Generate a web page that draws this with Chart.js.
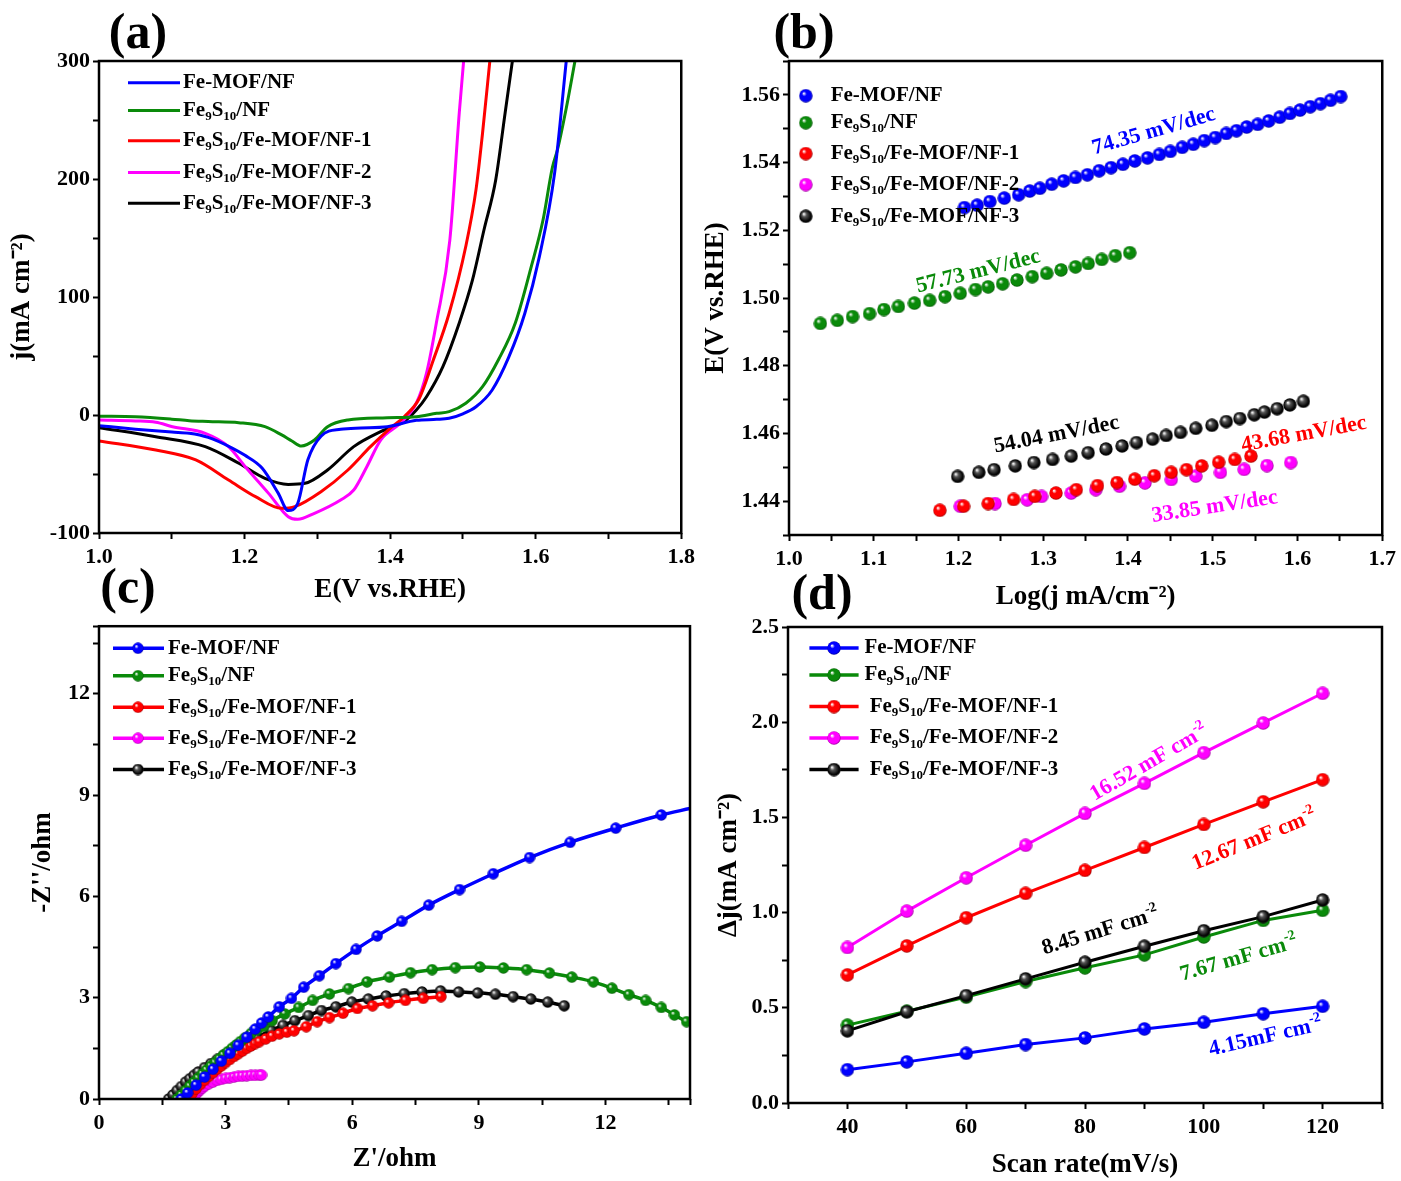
<!DOCTYPE html>
<html>
<head>
<meta charset="utf-8">
<script src="https://cdn.jsdelivr.net/npm/chart.js@4.4.1/dist/chart.umd.min.js"></script>
<style>
  html, body { margin: 0; padding: 0; background: #fff; }
  body { width: 1401px; height: 1181px; position: relative; overflow: hidden; }
  canvas { position: absolute; }
  .tag { position: absolute; font: bold 50px "Liberation Serif", "Times New Roman", serif; line-height: 1; color: #000; transform: translate(-50%, -50%); }
</style>
</head>
<body>
<canvas id="lsvChart" width="700" height="615" style="left:0;top:0"></canvas>
<canvas id="tafelChart" width="701" height="615" style="left:700px;top:0"></canvas>
<canvas id="eisChart" width="700" height="571" style="left:0;top:610px"></canvas>
<canvas id="cdlChart" width="701" height="571" style="left:700px;top:610px"></canvas>
<div class="tag" style="left:138px;top:31px">(a)</div>
<div class="tag" style="left:804px;top:31px">(b)</div>
<div class="tag" style="left:128px;top:586px">(c)</div>
<div class="tag" style="left:822px;top:592px">(d)</div>
<script>
// sample names (markup: _{..} subscript, ^{..} superscript)
const seriesNames = ['Fe-MOF/NF', 'Fe_{9}S_{10}/NF', 'Fe_{9}S_{10}/Fe-MOF/NF-1', 'Fe_{9}S_{10}/Fe-MOF/NF-2', 'Fe_{9}S_{10}/Fe-MOF/NF-3'];
const seriesColors = ['#0000ff', '#0a8a0a', '#ff0000', '#ff00ff', '#000000'];

// (a) LSV curves: potential (V vs RHE) and current density (mA cm-2)
const lsvMofE = [1.00, 1.05, 1.10, 1.124, 1.15, 1.183, 1.20, 1.224, 1.246, 1.26, 1.273, 1.287, 1.305, 1.332, 1.36, 1.396, 1.436, 1.464, 1.481, 1.50, 1.518, 1.54, 1.563, 1.585, 1.605, 1.626, 1.642];
const lsvMofJ = [-9, -12, -14.5, -15.5, -19, -28, -34, -45, -66, -81, -75, -38, -18, -12, -11, -10, -4.5, -3.7, -2.8, 1, 7, 21, 49, 86, 134, 205, 300];
const lsvFesE = [1.00, 1.05, 1.10, 1.124, 1.15, 1.192, 1.228, 1.251, 1.265, 1.278, 1.296, 1.314, 1.342, 1.396, 1.436, 1.464, 1.481, 1.504, 1.527, 1.549, 1.572, 1.594, 1.61, 1.623, 1.63, 1.642, 1.654];
const lsvFesJ = [-1, -1.5, -3.5, -4.8, -5.5, -6.5, -9.9, -16.9, -22, -26.3, -21.2, -9.9, -4.2, -2.3, -1.4, 1.4, 2.8, 10, 24, 47, 78, 126, 165, 210, 225, 260, 300];
const lsvNf1E = [1.00, 1.078, 1.133, 1.178, 1.215, 1.251, 1.269, 1.305, 1.342, 1.373, 1.40, 1.42, 1.44, 1.459, 1.481, 1.504, 1.518, 1.527, 1.537];
const lsvNf1J = [-22, -29.7, -38.1, -55.1, -69.2, -79.1, -77.7, -65, -46.6, -26.8, -11.3, -1, 14, 46, 86, 143, 191, 239, 300];
const lsvNf2E = [1.00, 1.05, 1.078, 1.101, 1.146, 1.178, 1.201, 1.233, 1.26, 1.273, 1.296, 1.332, 1.35, 1.368, 1.387, 1.414, 1.436, 1.45, 1.4635, 1.482, 1.495, 1.501];
const lsvNf2J = [-4.2, -5, -6.2, -9.9, -15.5, -26.8, -43.8, -66.4, -86.2, -88.4, -83.3, -72, -63.6, -43.8, -21.2, -7, 10, 35.5, 78, 148, 256, 300];
const lsvNf3E = [1.00, 1.078, 1.146, 1.192, 1.228, 1.26, 1.283, 1.314, 1.35, 1.387, 1.419, 1.436, 1.45, 1.4725, 1.495, 1.513, 1.529, 1.545, 1.558, 1.568];
const lsvNf3J = [-10.7, -18.4, -26.8, -40.9, -53.7, -58.8, -57.9, -46.6, -26.8, -14.1, -5.6, 4.2, 15.5, 41, 78, 114, 157, 199, 256, 300];

// (b) Tafel plots: log(j) and E
const tafelMofLog = [1.207, 1.222, 1.237, 1.254, 1.271, 1.284, 1.296, 1.310, 1.324, 1.338, 1.352, 1.366, 1.380, 1.394, 1.408, 1.423, 1.437, 1.450, 1.464, 1.477, 1.490, 1.503, 1.516, 1.528, 1.540, 1.553, 1.566, 1.579, 1.591, 1.603, 1.615, 1.627, 1.639, 1.651];
const tafelMofE = [1.5267, 1.5274, 1.5285, 1.5295, 1.5305, 1.5316, 1.5324, 1.5336, 1.5346, 1.5356, 1.5364, 1.5376, 1.5385, 1.5395, 1.5405, 1.5414, 1.5424, 1.5433, 1.5445, 1.5454, 1.5465, 1.5474, 1.5486, 1.5494, 1.5505, 1.5513, 1.5523, 1.5534, 1.5545, 1.5555, 1.5565, 1.5574, 1.5584, 1.5595];
const tafelFesLog = [1.037, 1.057, 1.075, 1.095, 1.112, 1.129, 1.148, 1.166, 1.184, 1.202, 1.220, 1.235, 1.252, 1.269, 1.287, 1.304, 1.321, 1.338, 1.353, 1.369, 1.385, 1.402];
const tafelFesE = [1.4925, 1.4934, 1.4945, 1.4954, 1.4966, 1.4975, 1.4985, 1.4993, 1.5004, 1.5014, 1.5025, 1.5033, 1.5042, 1.5053, 1.5063, 1.5073, 1.5083, 1.5092, 1.5102, 1.5114, 1.5125, 1.5134];
const tafelNf1Log = [1.178, 1.206, 1.235, 1.265, 1.290, 1.315, 1.339, 1.364, 1.387, 1.408, 1.431, 1.451, 1.469, 1.487, 1.507, 1.526, 1.545];
const tafelNf1E = [1.4373, 1.4385, 1.4393, 1.4405, 1.4414, 1.4424, 1.4434, 1.4446, 1.4455, 1.4465, 1.4475, 1.4485, 1.4493, 1.4504, 1.4515, 1.4523, 1.4533];
const tafelNf2Log = [1.202, 1.243, 1.281, 1.298, 1.333, 1.362, 1.390, 1.420, 1.451, 1.480, 1.509, 1.537, 1.564, 1.592];
const tafelNf2E = [1.4385, 1.4393, 1.4404, 1.4414, 1.4424, 1.4434, 1.4444, 1.4454, 1.4464, 1.4474, 1.4485, 1.4494, 1.4505, 1.4514];
const tafelNf3Log = [1.199, 1.224, 1.242, 1.267, 1.289, 1.311, 1.333, 1.353, 1.374, 1.393, 1.410, 1.429, 1.445, 1.462, 1.480, 1.499, 1.516, 1.532, 1.549, 1.561, 1.576, 1.591, 1.607];
const tafelNf3E = [1.4473, 1.4485, 1.4493, 1.4504, 1.4514, 1.4523, 1.4533, 1.4543, 1.4554, 1.4563, 1.4573, 1.4583, 1.4594, 1.4603, 1.4615, 1.4624, 1.4635, 1.4644, 1.4655, 1.4663, 1.4673, 1.4684, 1.4695];
const tafelSlopes = ['74.35 mV/dec', '57.73 mV/dec', '43.68 mV/dec', '33.85 mV/dec', '54.04 mV/dec'];

// (c) Nyquist plots: Z' and -Z'' (ohm)
const eisMofRe = [1.95, 2.1, 2.3, 2.5, 2.7, 2.9, 3.1, 3.3, 3.5, 3.7, 3.85, 4.01, 4.27, 4.56, 4.85, 5.22, 5.61, 6.09, 6.59, 7.17, 7.81, 8.54, 9.34, 10.2, 11.16, 12.24, 13.32, 14.0];
const eisMofIm = [0, 0.18, 0.41, 0.65, 0.88, 1.12, 1.35, 1.59, 1.83, 2.07, 2.25, 2.43, 2.73, 2.98, 3.31, 3.65, 4.01, 4.43, 4.83, 5.26, 5.74, 6.2, 6.67, 7.15, 7.6, 8.02, 8.41, 8.6];
const eisFesRe = [1.85, 1.95, 2.05, 2.15, 2.25, 2.35, 2.45, 2.55, 2.65, 2.75, 2.85, 2.95, 3.05, 3.15, 3.25, 3.35, 3.45, 3.6, 3.75, 3.9, 4.1, 4.4, 4.73, 5.06, 5.46, 5.91, 6.35, 6.88, 7.38, 7.89, 8.44, 9.02, 9.58, 10.13, 10.67, 11.2, 11.71, 12.15, 12.55, 12.95, 13.32, 13.63, 13.92];
const eisFesIm = [0, 0.12, 0.25, 0.38, 0.5, 0.62, 0.74, 0.86, 0.97, 1.08, 1.19, 1.3, 1.4, 1.5, 1.6, 1.7, 1.8, 1.94, 2.05, 2.15, 2.32, 2.52, 2.71, 2.92, 3.11, 3.27, 3.47, 3.61, 3.74, 3.83, 3.89, 3.91, 3.88, 3.83, 3.73, 3.61, 3.47, 3.28, 3.09, 2.92, 2.71, 2.49, 2.29];
const eisNf1Re = [2.1, 2.2, 2.3, 2.4, 2.5, 2.6, 2.7, 2.8, 2.9, 3.0, 3.1, 3.2, 3.3, 3.4, 3.5, 3.6, 3.7, 3.8, 3.95, 4.1, 4.27, 4.45, 4.62, 4.91, 5.17, 5.46, 5.78, 6.12, 6.48, 6.86, 7.26, 7.68, 8.1];
const eisNf1Im = [0, 0.15, 0.3, 0.43, 0.55, 0.67, 0.78, 0.88, 0.98, 1.08, 1.17, 1.26, 1.34, 1.42, 1.5, 1.57, 1.64, 1.7, 1.78, 1.86, 1.93, 1.98, 2.02, 2.14, 2.29, 2.41, 2.54, 2.68, 2.76, 2.85, 2.92, 2.98, 3.03];
const eisNf2Re = [2.2, 2.25, 2.3, 2.35, 2.4, 2.45, 2.5, 2.6, 2.7, 2.8, 2.9, 3.0, 3.1, 3.2, 3.3, 3.4, 3.5, 3.6, 3.7, 3.8, 3.85];
const eisNf2Im = [0, 0.08, 0.15, 0.22, 0.28, 0.33, 0.38, 0.45, 0.5, 0.55, 0.58, 0.61, 0.63, 0.65, 0.67, 0.68, 0.69, 0.7, 0.7, 0.71, 0.71];
const eisNf3Re = [1.65, 1.75, 1.85, 1.95, 2.05, 2.15, 2.25, 2.35, 2.5, 2.65, 2.8, 2.95, 3.1, 3.25, 3.43, 3.74, 4.08, 4.36, 4.64, 4.96, 5.27, 5.61, 5.99, 6.38, 6.8, 7.23, 7.65, 8.09, 8.52, 8.97, 9.39, 9.81, 10.23, 10.63, 11.02];
const eisNf3Im = [0, 0.12, 0.25, 0.37, 0.5, 0.6, 0.7, 0.8, 0.93, 1.05, 1.17, 1.29, 1.4, 1.52, 1.65, 1.83, 2.03, 2.18, 2.32, 2.47, 2.62, 2.73, 2.87, 2.96, 3.05, 3.12, 3.17, 3.2, 3.17, 3.14, 3.1, 3.03, 2.96, 2.87, 2.76];

// (d) double-layer capacitance: scan rate vs delta j
const scanRates = [40, 50, 60, 70, 80, 90, 100, 110, 120];
const cdlMof = [0.175, 0.216, 0.261, 0.307, 0.342, 0.389, 0.424, 0.469, 0.508];
const cdlFes = [0.409, 0.482, 0.556, 0.638, 0.710, 0.778, 0.872, 0.959, 1.012];
const cdlNf1 = [0.673, 0.825, 0.973, 1.101, 1.222, 1.342, 1.463, 1.582, 1.698];
const cdlNf2 = [0.817, 1.008, 1.183, 1.354, 1.521, 1.679, 1.840, 1.996, 2.152];
const cdlNf3 = [0.379, 0.479, 0.564, 0.652, 0.739, 0.823, 0.905, 0.979, 1.066];
const cdlValues = ['4.15mF cm^{-2}', '7.67 mF cm^{-2}', '12.67 mF cm^{-2}', '16.52 mF cm^{-2}', '8.45 mF cm^{-2}'];

const FAMILY = '"Liberation Serif", "Times New Roman", serif';
Chart.defaults.font.family = FAMILY;
Chart.defaults.color = '#000';

function pairs(xs, ys) {
    return xs.map((x, i) => ({ x: x, y: ys[i] }));
}

function range(min, max, step) {
    const out = [];
    for (let i = 0; min + i * step <= max + 1e-9; i++) out.push(+(min + i * step).toFixed(6));
    return out;
}

function darken(hex, f) {
    const n = parseInt(hex.slice(1), 16);
    const r = Math.round(((n >> 16) & 255) * f), g = Math.round(((n >> 8) & 255) * f), b = Math.round((n & 255) * f);
    return 'rgb(' + r + ',' + g + ',' + b + ')';
}

// shaded ball used as marker
function makeBall(color, d) {
    const c = document.createElement('canvas');
    c.width = d; c.height = d;
    const g = c.getContext('2d');
    const r = d / 2;
    const grad = g.createRadialGradient(r * 0.7, r * 0.65, r * 0.05, r, r, r);
    grad.addColorStop(0, '#ffffff');
    grad.addColorStop(0.3, color === '#000000' ? '#555555' : color);
    grad.addColorStop(0.8, color);
    grad.addColorStop(1, darken(color === '#000000' ? '#333333' : color, 0.55));
    g.fillStyle = grad;
    g.beginPath();
    g.arc(r, r, r - 0.3, 0, Math.PI * 2);
    g.fill();
    return c;
}

function drawRich(ctx, text, x, y, size, color, align, angle) {
    const parts = [];
    const re = /([_^])\{([^}]*)\}|([^_^]+)/g;
    let m;
    while ((m = re.exec(text))) {
        if (m[3]) parts.push({ t: m[3], k: 0 });
        else parts.push({ t: m[2], k: m[1] === '_' ? 1 : -1 });
    }
    const fontFor = k => 'bold ' + (k ? Math.round(size * 0.64) : size) + 'px ' + FAMILY;
    ctx.save();
    ctx.translate(x, y);
    ctx.rotate((angle || 0) * Math.PI / 180);
    let w = 0;
    parts.forEach(p => { ctx.font = fontFor(p.k); p.w = ctx.measureText(p.t).width; w += p.w; });
    let cx = align === 'center' ? -w / 2 : 0;
    ctx.fillStyle = color;
    ctx.textBaseline = 'middle';
    ctx.textAlign = 'left';
    parts.forEach(p => {
        ctx.font = fontFor(p.k);
        const dy = p.k === 1 ? size * 0.3 : (p.k === -1 ? -size * 0.33 : 0);
        ctx.fillText(p.t, cx, dy);
        cx += p.w;
    });
    ctx.restore();
}

const framePlugin = {
    id: 'frame',
    afterDatasetsDraw(chart) {
        const { ctx, chartArea: a } = chart;
        ctx.save();
        ctx.strokeStyle = '#000';
        ctx.lineWidth = 2.5;
        ctx.strokeRect(a.left, a.top, a.right - a.left, a.bottom - a.top);
        ctx.restore();
    }
};

function legendPlugin(cfg) {
    return {
        id: 'richLegend',
        afterDraw(chart) {
            const { ctx, chartArea: a } = chart;
            seriesNames.forEach((name, i) => {
                const y = a.top + cfg.rows[i];
                if (cfg.line) {
                    ctx.save();
                    ctx.strokeStyle = seriesColors[i];
                    ctx.lineWidth = cfg.lineWidth;
                    ctx.beginPath();
                    ctx.moveTo(a.left + cfg.line[0], y);
                    ctx.lineTo(a.left + cfg.line[1], y);
                    ctx.stroke();
                    ctx.restore();
                }
                if (cfg.balls) {
                    const b = cfg.balls[i];
                    ctx.drawImage(b, a.left + cfg.markX - b.width / 2, y - b.height / 2);
                }
                const tx = Array.isArray(cfg.textX) ? cfg.textX[i] : cfg.textX;
                drawRich(ctx, name, a.left + tx, y, 21, '#000', 'left', 0);
            });
        }
    };
}

function notePlugin(notes) {
    return {
        id: 'notes',
        afterDraw(chart) {
            const { ctx, scales } = chart;
            notes.forEach(n => {
                drawRich(ctx, n.text, scales.x.getPixelForValue(n.x), scales.y.getPixelForValue(n.y), 22, n.color, 'center', n.angle);
            });
        }
    };
}

function axis(o) {
    const left = o.position === 'left';
    return {
        type: 'linear',
        position: o.position,
        min: o.min,
        max: o.max,
        afterBuildTicks: sc => { sc.ticks = o.ticks.map(v => ({ value: v })); },
        afterFit: sc => { if (left) sc.width = o.size; else sc.height = o.size; },
        grid: { display: true, drawOnChartArea: false, drawTicks: true, tickLength: 6, tickWidth: 2, tickColor: '#000' },
        border: { display: false },
        ticks: { autoSkip: false, maxRotation: 0, minRotation: 0, padding: left ? 3 : 5, color: '#000', font: { size: 22, weight: 'bold' }, callback: o.label },
        title: {
            display: true, text: o.title, color: '#000',
            font: { size: 27, weight: 'bold', lineHeight: 1.2 },
            padding: left ? { top: o.titlePad, bottom: 0 } : { top: 0, bottom: o.titlePad }
        }
    };
}

function baseOptions(pad, xAxis, yAxis) {
    return {
        responsive: false,
        animation: false,
        events: [],
        layout: { padding: pad },
        plugins: { legend: { display: false }, tooltip: { enabled: false } },
        scales: { x: xAxis, y: yAxis }
    };
}

// (a) LSV
const lsvSets = [[lsvMofE, lsvMofJ], [lsvFesE, lsvFesJ], [lsvNf1E, lsvNf1J], [lsvNf2E, lsvNf2J], [lsvNf3E, lsvNf3J]];
new Chart(document.getElementById('lsvChart'), {
    type: 'scatter',
    data: {
        datasets: lsvSets.map((s, i) => ({
            data: pairs(s[0], s[1]),
            showLine: true,
            borderColor: seriesColors[i],
            borderWidth: 3,
            pointRadius: 0,
            cubicInterpolationMode: 'monotone'
        }))
    },
    options: baseOptions({ top: 61, right: 13, bottom: 0, left: 0 },
        axis({ position: 'bottom', min: 1.0, max: 1.8, ticks: range(1.0, 1.8, 0.1), size: 82, title: 'E(V vs.RHE)', titlePad: 8.8,
            label: v => Math.round(v * 10) % 2 === 0 ? v.toFixed(1) : '' }),
        axis({ position: 'left', min: -100, max: 300, ticks: range(-100, 300, 50), size: 99, title: 'j(mA cm⁻²)', titlePad: 5.8,
            label: v => v % 100 === 0 ? String(v) : '' })),
    plugins: [framePlugin, legendPlugin({ line: [29, 81], lineWidth: 3, textX: 84, rows: [21.7, 49.4, 79.8, 111.5, 142.3] })]
});

// (b) Tafel
const tafelSets = [[tafelMofLog, tafelMofE], [tafelFesLog, tafelFesE], [tafelNf1Log, tafelNf1E], [tafelNf2Log, tafelNf2E], [tafelNf3Log, tafelNf3E]];
const tafelBalls = seriesColors.map(c => makeBall(c, 14));
new Chart(document.getElementById('tafelChart'), {
    type: 'scatter',
    data: {
        datasets: tafelSets.map((s, i) => ({
            data: pairs(s[0], s[1]),
            pointStyle: tafelBalls[i],
            pointRadius: 7
        }))
    },
    options: baseOptions({ top: 61, right: 15, bottom: 0, left: 0 },
        axis({ position: 'bottom', min: 1.0, max: 1.7, ticks: range(1.0, 1.7, 0.05), size: 80, title: 'Log(j mA/cm⁻²)', titlePad: 1.8,
            label: v => Math.round(v * 100) % 10 === 0 ? v.toFixed(1) : '' }),
        axis({ position: 'left', min: 1.43, max: 1.57, ticks: range(1.43, 1.57, 0.01), size: 89, title: 'E(V vs.RHE)', titlePad: 0,
            label: v => Math.round(v * 100) % 2 === 0 ? v.toFixed(2) : '' })),
    plugins: [framePlugin,
        legendPlugin({ balls: tafelBalls, markX: 16.8, textX: 41.7, rows: [34.7, 61.7, 92.6, 123.6, 155.3] }),
        notePlugin([
            { text: tafelSlopes[0], x: 1.4305, y: 1.5492, angle: -16, color: seriesColors[0] },
            { text: tafelSlopes[1], x: 1.2232, y: 1.5078, angle: -14, color: seriesColors[1] },
            { text: tafelSlopes[2], x: 1.6075, y: 1.4597, angle: -10.5, color: seriesColors[2] },
            { text: tafelSlopes[3], x: 1.5023, y: 1.4383, angle: -8.5, color: seriesColors[3] },
            { text: tafelSlopes[4], x: 1.3157, y: 1.4596, angle: -11, color: seriesColors[4] }
        ])]
});

// (c) Nyquist
const eisSets = [[eisMofRe, eisMofIm], [eisFesRe, eisFesIm], [eisNf1Re, eisNf1Im], [eisNf2Re, eisNf2Im], [eisNf3Re, eisNf3Im]];
const eisBalls = seriesColors.map(c => makeBall(c, 12));
new Chart(document.getElementById('eisChart'), {
    type: 'scatter',
    data: {
        datasets: eisSets.map((s, i) => ({
            data: pairs(s[0], s[1]),
            showLine: true,
            borderColor: seriesColors[i],
            borderWidth: 3.5,
            pointStyle: eisBalls[i],
            pointRadius: ctx => (ctx.dataIndex === 0 && false) || (s[0][ctx.dataIndex] >= 14 ? 0 : 6),
            cubicInterpolationMode: 'monotone'
        }))
    },
    options: baseOptions({ top: 13, right: 10, bottom: 0, left: 0 },
        axis({ position: 'bottom', min: 0, max: 14, ticks: range(0, 14, 1.5).concat([14]), size: 82, title: "Z'/ohm", titlePad: 5.8,
            label: v => Math.round(v * 2) % 6 === 0 ? String(Math.round(v)) : '' }),
        axis({ position: 'left', min: 0, max: 14, ticks: range(0, 14, 1.5).concat([14]), size: 99, title: "-Z''/ohm", titlePad: 26.8,
            label: v => Math.round(v * 2) % 6 === 0 ? String(Math.round(v)) : '' })),
    plugins: [framePlugin, legendPlugin({ line: [14, 65], lineWidth: 3.5, balls: eisBalls, markX: 39, textX: 69, rows: [22, 49.5, 81, 112, 143.3] })]
});

// (d) Cdl
const cdlSets = [cdlMof, cdlFes, cdlNf1, cdlNf2, cdlNf3];
const cdlBalls = seriesColors.map(c => makeBall(c, 14));
new Chart(document.getElementById('cdlChart'), {
    type: 'scatter',
    data: {
        datasets: cdlSets.map((s, i) => ({
            data: pairs(scanRates, s),
            showLine: true,
            borderColor: seriesColors[i],
            borderWidth: 3,
            pointStyle: cdlBalls[i],
            pointRadius: 7,
            order: i === 4 ? -1 : i
        }))
    },
    options: baseOptions({ top: 17, right: 19, bottom: 0, left: 0 },
        axis({ position: 'bottom', min: 30, max: 130, ticks: range(30, 130, 10), size: 78, title: 'Scan rate(mV/s)', titlePad: 0,
            label: v => (v % 20 === 0) ? String(v) : '' }),
        axis({ position: 'left', min: 0, max: 2.5, ticks: range(0, 2.5, 0.25), size: 88, title: 'Δj(mA cm⁻²)', titlePad: 12.6,
            label: v => Math.round(v * 4) % 2 === 0 ? v.toFixed(1) : '' })),
    plugins: [framePlugin,
        legendPlugin({ line: [21.4, 70.6], lineWidth: 3.5, balls: cdlBalls, markX: 46, textX: [76.4, 76.4, 81.7, 81.7, 81.7], rows: [21, 48, 79.6, 111, 142.6] }),
        notePlugin([
            { text: cdlValues[0], x: 110.4, y: 0.346, angle: -13, color: seriesColors[0] },
            { text: cdlValues[1], x: 105.9, y: 0.759, angle: -16, color: seriesColors[1] },
            { text: cdlValues[2], x: 108.5, y: 1.381, angle: -22, color: seriesColors[2] },
            { text: cdlValues[3], x: 90.8, y: 1.786, angle: -30, color: seriesColors[3] },
            { text: cdlValues[4], x: 82.6, y: 0.901, angle: -17, color: seriesColors[4] }
        ])]
});
</script>
</body>
</html>
